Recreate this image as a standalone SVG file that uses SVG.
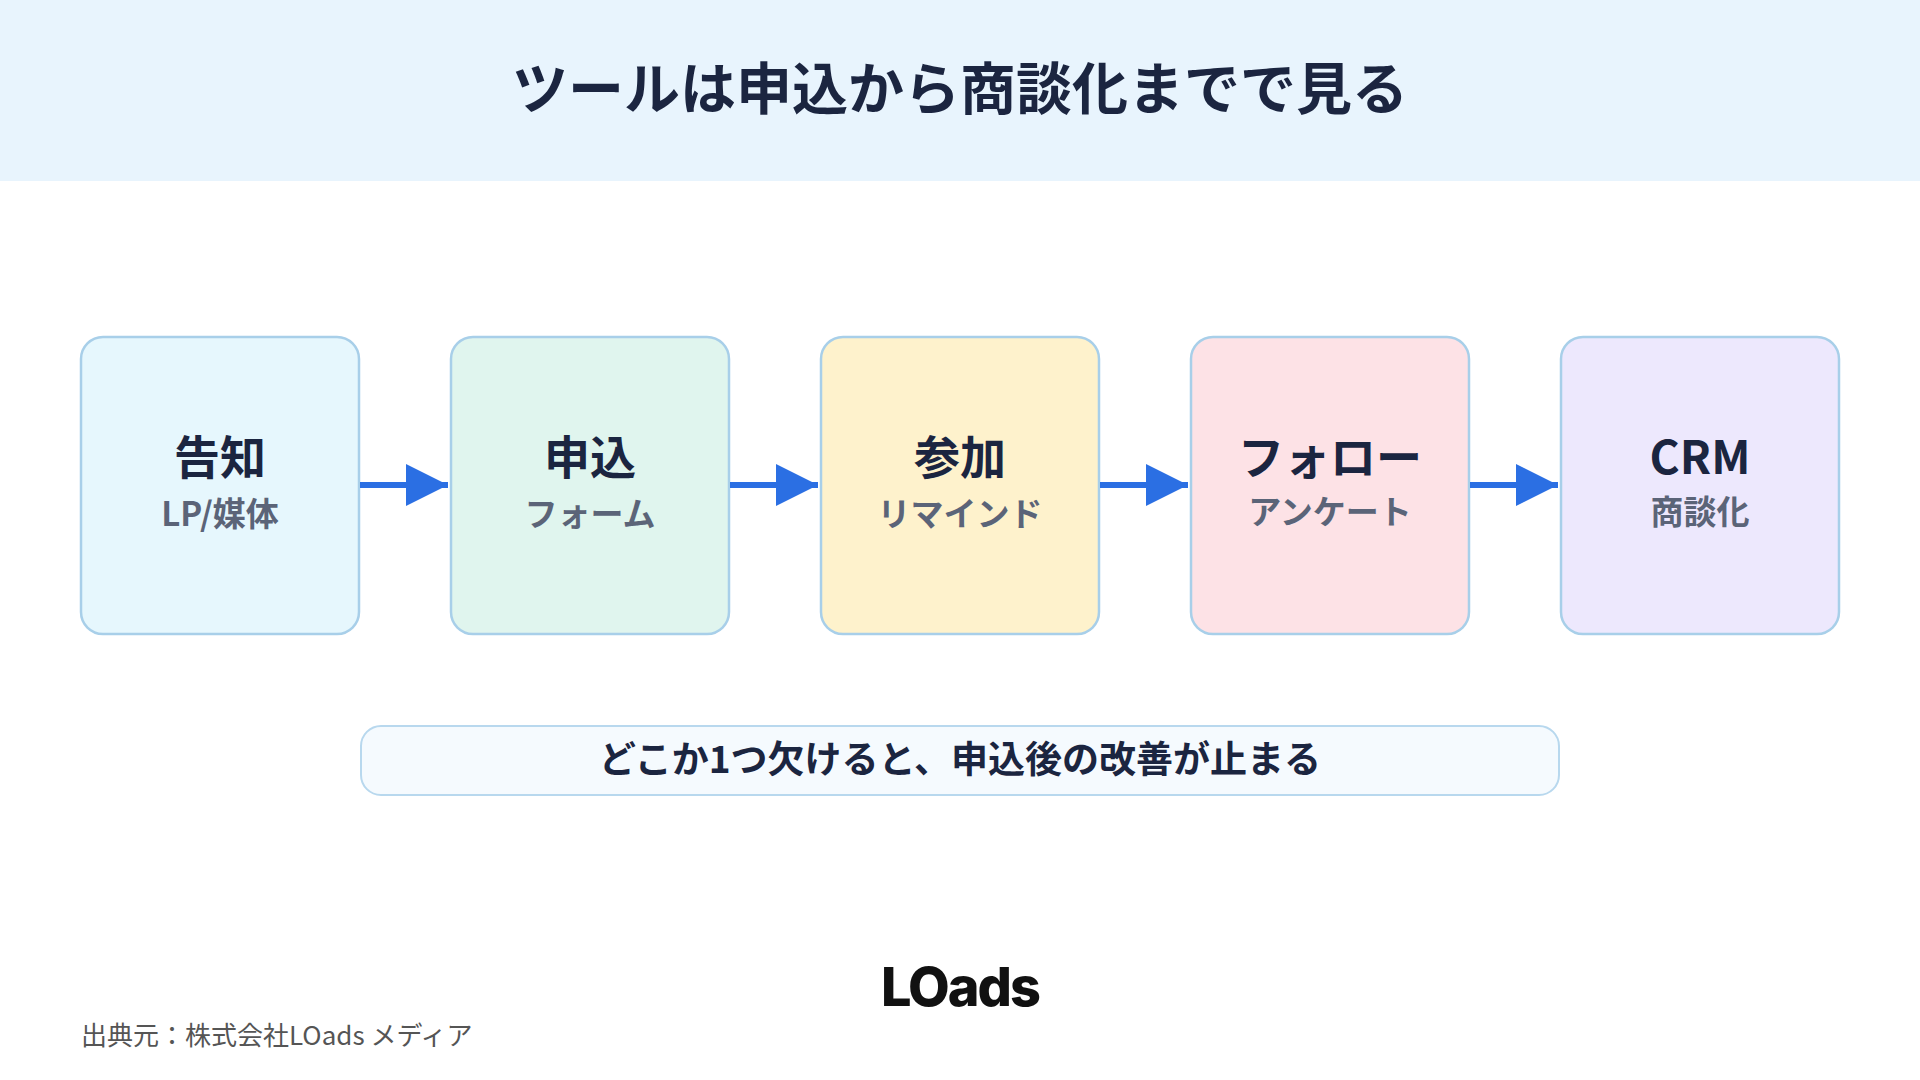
<svg xmlns="http://www.w3.org/2000/svg" width="1920" height="1080" viewBox="0 0 1920 1080">
<defs>
<style>
text{font-family:"Noto Sans CJK JP","Noto Sans",sans-serif;text-anchor:middle}
.box{stroke:#a8cfe9;stroke-width:2.5}
.t{font-size:46px;font-weight:700;fill:#1b2540}
.s{font-size:33px;font-weight:700;fill:#5b6478}
.c{stroke:#2b6fe3;stroke-width:6;fill:none}
</style>
<marker id="ah" markerWidth="8" markerHeight="8" refX="7" refY="4" orient="auto" markerUnits="strokeWidth"><path d="M0,0.5 L7,4 L0,7.5 Z" fill="#2b6fe3"/></marker>
</defs>
<rect width="1920" height="1080" fill="#ffffff"/>
<rect width="1920" height="181" fill="#e8f4fd"/>
<text x="960" y="109" style="font-size:56px;font-weight:700;fill:#1b2540">ツールは申込から商談化までで見る</text>
<g id="n1"><rect class="box" x="81" y="337" width="278" height="297" rx="22" fill="#e6f7fd"/><text class="t" x="220" y="474">告知</text><text class="s" x="220" y="526">LP/媒体</text></g>
<g id="n2"><rect class="box" x="451" y="337" width="278" height="297" rx="22" fill="#e0f5ee"/><text class="t" x="590" y="474">申込</text><text class="s" x="590" y="526">フォーム</text></g>
<g id="n3"><rect class="box" x="821" y="337" width="278" height="297" rx="22" fill="#fef2cc"/><text class="t" x="960" y="474">参加</text><text class="s" x="960" y="526">リマインド</text></g>
<g id="n4"><rect class="box" x="1191" y="337" width="278" height="297" rx="22" fill="#fde2e6"/><text class="t" x="1330" y="474">フォロー</text><text class="s" x="1330" y="524">アンケート</text></g>
<g id="n5"><rect class="box" x="1561" y="337" width="278" height="297" rx="22" fill="#ede8fd"/><text class="t" x="1700" y="474">CRM</text><text class="s" x="1700" y="524">商談化</text></g>
<g id="connectors">
<line class="c" x1="360" y1="485" x2="448" y2="485" marker-end="url(#ah)"/>
<line class="c" x1="730" y1="485" x2="818" y2="485" marker-end="url(#ah)"/>
<line class="c" x1="1100" y1="485" x2="1188" y2="485" marker-end="url(#ah)"/>
<line class="c" x1="1470" y1="485" x2="1558" y2="485" marker-end="url(#ah)"/>
</g>
<g id="note"><rect x="361" y="726" width="1198" height="69" rx="20" fill="#f5fafe" stroke="#b8d8ee" stroke-width="2"/><text x="960" y="773" style="font-size:37px;font-weight:700;fill:#1b2540">どこか1つ欠けると、申込後の改善が止まる</text></g>
<text x="960" y="1006" style="font-family:'Inter','Noto Sans',sans-serif;font-size:54px;font-weight:800;fill:#111;letter-spacing:-2px">LOads</text>
<text x="81" y="1045" style="text-anchor:start;font-size:26px;fill:#555">出典元：株式会社LOads メディア</text>
</svg>
